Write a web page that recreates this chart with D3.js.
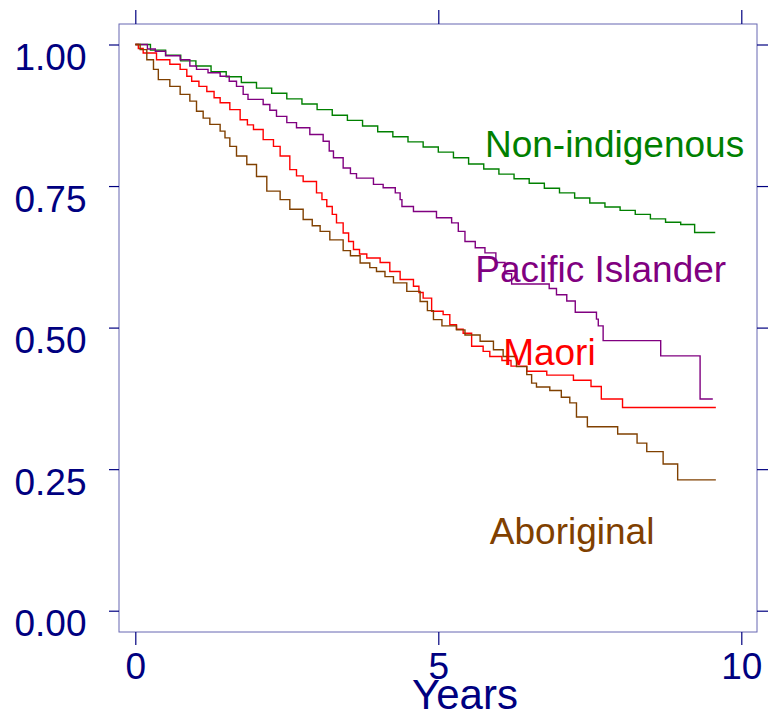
<!DOCTYPE html>
<html>
<head>
<meta charset="utf-8">
<script src="https://cdn.jsdelivr.net/npm/d3@7/dist/d3.min.js"></script>
<style>
  html, body { margin: 0; padding: 0; background: #fff; }
  svg { display: block; font-family: "Liberation Sans", Arial, sans-serif; }
</style>
</head>
<body>
<svg id="chart" width="771" height="712"></svg>
<script>
// Kaplan-Meier survival by group: [years, survival proportion]
const nonIndigenous = [
  [0, 1], [0.25, 0.990], [0.5, 0.981], [0.75, 0.971], [1.0, 0.962], [1.25, 0.952],
  [1.5, 0.943], [1.75, 0.933], [2.0, 0.923], [2.25, 0.914], [2.5, 0.904], [2.75, 0.895],
  [3.0, 0.885], [3.25, 0.875], [3.5, 0.866], [3.75, 0.856], [4.0, 0.846], [4.25, 0.837],
  [4.5, 0.828], [4.75, 0.819], [5.0, 0.810], [5.25, 0.800], [5.5, 0.789], [5.75, 0.780],
  [6.0, 0.771], [6.25, 0.763], [6.5, 0.755], [6.75, 0.746], [7.0, 0.738], [7.25, 0.729],
  [7.5, 0.720], [7.75, 0.713], [8.0, 0.707], [8.25, 0.700], [8.5, 0.692], [8.75, 0.686],
  [9.0, 0.682], [9.23, 0.668], [9.57, 0.668]
];

const pacificIslander = [
  [0, 1], [0.2, 0.992], [0.33, 0.988], [0.5, 0.980], [0.74, 0.973], [0.9, 0.962],
  [1.01, 0.956], [1.2, 0.950], [1.40, 0.944], [1.55, 0.935], [1.67, 0.926], [1.78, 0.912],
  [1.86, 0.903], [2.11, 0.894], [2.22, 0.884], [2.33, 0.873], [2.5, 0.862], [2.66, 0.853],
  [2.88, 0.841], [3.10, 0.829], [3.2, 0.812], [3.27, 0.800], [3.43, 0.782], [3.55, 0.772],
  [3.65, 0.764], [3.93, 0.753], [4.09, 0.747], [4.29, 0.738], [4.37, 0.726], [4.40, 0.714],
  [4.59, 0.705], [4.97, 0.694], [5.22, 0.685], [5.33, 0.670], [5.44, 0.652], [5.61, 0.641],
  [5.77, 0.632], [5.95, 0.615], [6.1, 0.595], [6.21, 0.577], [6.83, 0.569], [6.95, 0.558],
  [7.12, 0.547], [7.26, 0.527], [7.61, 0.515], [7.64, 0.503], [7.72, 0.477], [8.67, 0.450],
  [9.32, 0.374], [9.53, 0.374]
];

const maori = [
  [0, 1], [0.05, 0.993], [0.13, 0.985], [0.35, 0.973], [0.57, 0.965], [0.74, 0.956],
  [0.85, 0.944], [0.93, 0.935], [1.05, 0.926], [1.18, 0.917], [1.30, 0.906], [1.40, 0.897],
  [1.56, 0.885], [1.73, 0.867], [1.85, 0.858], [1.95, 0.850], [2.11, 0.832], [2.28, 0.820],
  [2.39, 0.803], [2.55, 0.779], [2.66, 0.768], [2.77, 0.758], [2.99, 0.738], [3.08, 0.726],
  [3.16, 0.714], [3.25, 0.700], [3.32, 0.685], [3.43, 0.667], [3.52, 0.652], [3.60, 0.638],
  [3.70, 0.630], [3.82, 0.623], [4.04, 0.615], [4.20, 0.599], [4.37, 0.585], [4.59, 0.573],
  [4.68, 0.562], [4.75, 0.552], [4.89, 0.529], [5.08, 0.523], [5.19, 0.505], [5.30, 0.497],
  [5.41, 0.490], [5.55, 0.467], [5.74, 0.458], [5.85, 0.449], [6.05, 0.442], [6.20, 0.432],
  [6.46, 0.423], [6.79, 0.416], [7.23, 0.407], [7.52, 0.396], [7.69, 0.374], [8.04, 0.359],
  [9.58, 0.359]
];

const aboriginal = [
  [0, 1], [0.08, 0.991], [0.19, 0.973], [0.30, 0.956], [0.38, 0.938], [0.57, 0.926],
  [0.74, 0.912], [0.90, 0.900], [1.01, 0.882], [1.12, 0.870], [1.23, 0.859], [1.40, 0.847],
  [1.48, 0.835], [1.56, 0.820], [1.67, 0.803], [1.84, 0.788], [2.0, 0.767], [2.17, 0.741],
  [2.39, 0.726], [2.55, 0.709], [2.77, 0.691], [2.92, 0.680], [3.05, 0.670], [3.21, 0.655],
  [3.43, 0.636], [3.55, 0.627], [3.71, 0.614], [3.87, 0.606], [3.98, 0.599], [4.12, 0.590],
  [4.26, 0.579], [4.48, 0.564], [4.70, 0.546], [4.82, 0.530], [4.92, 0.514], [5.06, 0.503],
  [5.30, 0.496], [5.44, 0.487], [5.69, 0.476], [5.91, 0.461], [6.07, 0.449], [6.29, 0.431],
  [6.46, 0.417], [6.54, 0.402], [6.62, 0.395], [6.84, 0.389], [7.03, 0.377], [7.17, 0.367],
  [7.28, 0.342], [7.46, 0.325], [7.96, 0.312], [8.28, 0.296], [8.44, 0.281], [8.71, 0.259],
  [8.95, 0.231], [9.58, 0.231]
];

const groupNames = ["Non-indigenous", "Pacific Islander", "Maori", "Aboriginal"];
const xTicks = [0, 5, 10];
const yTicks = [0, 0.25, 0.5, 0.75, 1];
const xTitle = "Years";

// ---- layout and styling ----
const navy = "#000080";
const colors = ["#008000", "#800080", "#ff0000", "#804000"];
const seriesList = [nonIndigenous, pacificIslander, maori, aboriginal];
// label anchors, expressed in data units (start of text, baseline)
const labelAnchors = [[5.77, 0.802], [5.61, 0.580], [6.07, 0.434], [5.85, 0.117]];

const box = { left: 119, right: 757, top: 24, bottom: 632 };
const x = d3.scaleLinear().domain([0, 10]).range([135.3, 741.3]);
const y = d3.scaleLinear().domain([0, 1]).range([610.7, 44.5]);

const svg = d3.select("#chart");
svg.append("rect").attr("width", 771).attr("height", 712).attr("fill", "#fff");

// frame
svg.append("rect")
  .attr("x", box.left).attr("y", box.top)
  .attr("width", box.right - box.left).attr("height", box.bottom - box.top)
  .attr("fill", "none").attr("stroke", navy).attr("stroke-width", 1)
  .attr("stroke-opacity", 0.6);

function styleAxis(g) {
  g.select(".domain").remove();
  g.selectAll(".tick line").attr("stroke", navy).attr("stroke-width", 1.2);
  g.selectAll(".tick text").attr("fill", navy)
    .style("font-size", "37px").style("font-family", "'Liberation Sans', Arial, sans-serif");
}

// bottom axis with labels
const bottomAxis = svg.append("g")
  .attr("transform", `translate(0,${box.bottom})`)
  .call(d3.axisBottom(x).tickValues(xTicks).tickFormat(d3.format("d"))
    .tickSizeInner(13).tickSizeOuter(0).tickPadding(8));
styleAxis(bottomAxis);

// top axis: ticks only
const topAxis = svg.append("g")
  .attr("transform", `translate(0,${box.top})`)
  .call(d3.axisTop(x).tickValues(xTicks).tickFormat("").tickSizeInner(14).tickSizeOuter(0));
styleAxis(topAxis);

// left axis with labels, text hanging below each tick
const leftAxis = svg.append("g")
  .attr("transform", `translate(${box.left},0)`)
  .call(d3.axisLeft(y).tickValues(yTicks).tickFormat(d3.format(".2f"))
    .tickSizeInner(10).tickSizeOuter(0).tickPadding(22.5));
styleAxis(leftAxis);
leftAxis.selectAll(".tick text").attr("dy", "25px");

// right axis: ticks only
const rightAxis = svg.append("g")
  .attr("transform", `translate(${box.right},0)`)
  .call(d3.axisRight(y).tickValues(yTicks).tickFormat("").tickSizeInner(11).tickSizeOuter(0));
styleAxis(rightAxis);

// axis title
svg.append("text")
  .attr("x", 465).attr("y", 709)
  .attr("text-anchor", "middle")
  .attr("fill", navy)
  .style("font-size", "42px")
  .text(xTitle);

// survival step curves
const line = d3.line()
  .x(d => x(d[0]))
  .y(d => y(d[1]))
  .curve(d3.curveStepAfter);

seriesList.forEach((data, i) => {
  svg.append("path")
    .datum(data)
    .attr("d", line)
    .attr("fill", "none")
    .attr("stroke", colors[i])
    .attr("stroke-width", 1.4);
});

// group labels
groupNames.forEach((name, i) => {
  svg.append("text")
    .attr("x", x(labelAnchors[i][0]))
    .attr("y", y(labelAnchors[i][1]))
    .attr("fill", colors[i])
    .style("font-size", "37px")
    .text(name);
});
</script>
</body>
</html>
